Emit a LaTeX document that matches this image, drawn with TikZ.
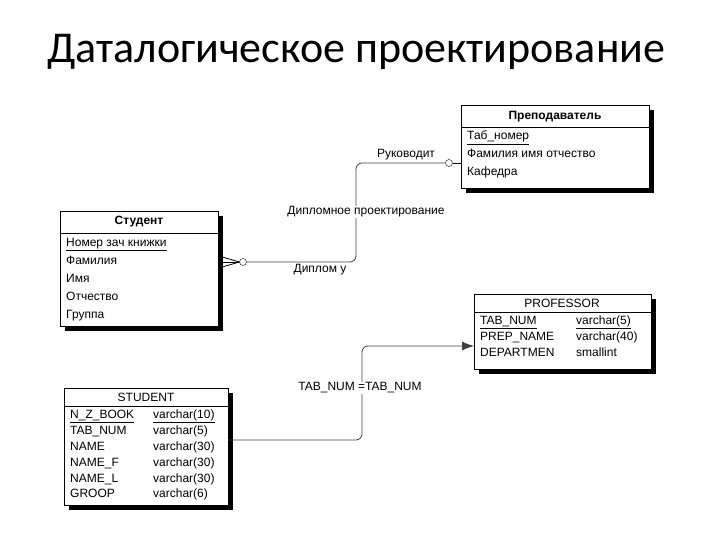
\documentclass[tikz,border=0pt]{standalone}
\usepackage{fontspec}
\setmainfont{Liberation Sans}
\newfontfamily\titlefont{Carlito}
\usetikzlibrary{arrows.meta}
\begin{document}
\begin{tikzpicture}[x=1pt,y=-1pt,
  ent/.style={draw,line width=0.8pt,fill=white},
  shad/.style={fill=black},
  txt/.style={anchor=west,inner sep=0pt,text height=8.5pt,text depth=2.5pt,font=\fontsize{12}{13}\selectfont},
  lbl/.style={inner sep=1pt,fill=white,font=\fontsize{12}{13}\selectfont},
  conn/.style={line width=0.8pt,rounded corners=6pt,draw=black!75}]
\useasboundingbox (0,0) rectangle (720,540);
\node[font=\titlefont\fontsize{44}{50}\selectfont,anchor=west,inner sep=0pt] (title) at (47,52) {Даталогическое проектирование};
% Преподаватель
\fill[shad] (466,110) rectangle (654,193);
\draw[ent] (461,105) rectangle (649,188);
\draw[line width=0.8pt] (461,127) -- (649,127);
\node[font=\bfseries\fontsize{12}{13}\selectfont] (prep) at (555,117) {Преподаватель};
\node[txt] (p1) at (467,137) {\underline{Таб\_номер}};
\node[txt] (p2) at (467,155) {Фамилия имя отчество};
\node[txt] (p3) at (467,173) {Кафедра};
% Студент
\fill[shad] (65,216) rectangle (223,331);
\draw[ent] (60,211) rectangle (218,326);
\draw[line width=0.8pt] (60,233) -- (218,233);
\node[font=\bfseries\fontsize{12}{13}\selectfont] (stud) at (139,222) {Студент};
\node[txt] (s1) at (66,243) {\underline{Номер зач книжки}};
\node[txt] (s2) at (66,261) {Фамилия};
\node[txt] (s3) at (66,279) {Имя};
\node[txt] (s4) at (66,297) {Отчество};
\node[txt] (s5) at (66,315) {Группа};
% PROFESSOR
\fill[shad] (479,299) rectangle (656,374);
\draw[ent] (474,294) rectangle (651,369);
\draw[line width=0.8pt] (474,312) -- (651,312);
\node[font=\fontsize{12}{13}\selectfont] (prof) at (562,303) {PROFESSOR};
\node[txt] (f1) at (480,321) {\underline{TAB\_NUM}};
\node[txt] (f1b) at (576,321) {\underline{varchar(5)}};
\node[txt] (f2) at (480,337) {PREP\_NAME};
\node[txt] (f2b) at (576,337) {varchar(40)};
\node[txt] (f3) at (480,353) {DEPARTMEN};
\node[txt] (f3b) at (576,353) {smallint};
% STUDENT
\fill[shad] (69,393) rectangle (233,510);
\draw[ent] (64,388) rectangle (228,505);
\draw[line width=0.8pt] (64,406) -- (228,406);
\node[font=\fontsize{12}{13}\selectfont] (studt) at (146,397) {STUDENT};
\node[txt] (t1) at (70,415) {\underline{N\_Z\_BOOK}};
\node[txt] (t1b) at (153,415) {\underline{varchar(10)}};
\node[txt] (t2) at (70,431) {TAB\_NUM};
\node[txt] (t2b) at (153,431) {varchar(5)};
\node[txt] (t3) at (70,447) {NAME};
\node[txt] (t3b) at (153,447) {varchar(30)};
\node[txt] (t4) at (70,463) {NAME\_F};
\node[txt] (t4b) at (153,463) {varchar(30)};
\node[txt] (t5) at (70,479) {NAME\_L};
\node[txt] (t5b) at (153,479) {varchar(30)};
\node[txt] (t6) at (70,494) {GROOP};
\node[txt] (t6b) at (153,494) {varchar(6)};
% connector 1
\coordinate (a1) at (218,262);
\coordinate (b1) at (461,163);
\node[draw,circle,inner sep=0pt,minimum size=7pt,fill=white] (c1) at (243,262) {};
\node[draw,circle,inner sep=0pt,minimum size=7pt,fill=white] (c2) at (449,163) {};
\draw[conn] (c1) -- (356,262) -- (356,163) -- (c2);
\draw[line width=0.8pt] (c2) -- (b1);
\draw[line width=0.8pt] (219,256) -- (c1.west) -- (219,268);
\draw[line width=0.8pt] (a1) -- (c1.west);
\node[lbl] (l1) at (406,155) {Руководит};
\node[lbl] (l2) at (366,212) {Дипломное проектирование};
\node[lbl,fill=none] (l3) at (320,270) {Диплом у};
% connector 2
\coordinate (a2) at (228,440);
\coordinate (b2) at (474,346);
\draw[conn,-{Latex[length=12pt,width=9pt]}] (a2) -- (362,440) -- (362,346) -- (b2);
\node[lbl] (l4) at (360,388) {TAB\_NUM =TAB\_NUM};
\end{tikzpicture}
\end{document}
